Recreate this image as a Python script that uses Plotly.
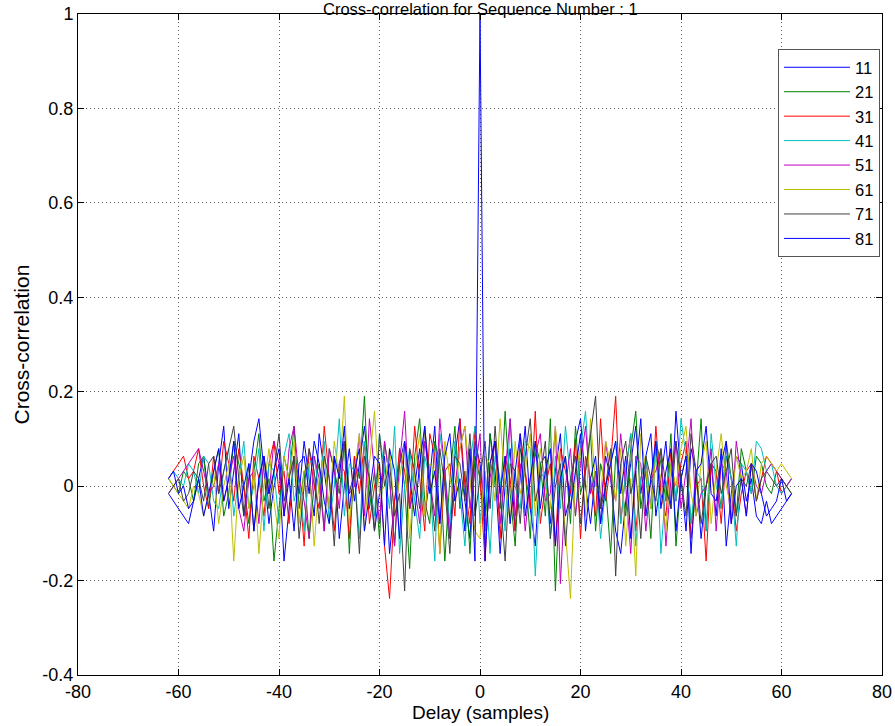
import plotly.graph_objects as go

# Delay axis (samples)
delays = list(range(-62, 63))
UNIT = 63.0  # values below are read in units of 1/63

labels = ["11", "21", "31", "41", "51", "61", "71", "81"]
colors = ["#0000ff", "#008000", "#ff0000", "#00bfbf", "#bf00bf", "#bfbf00", "#404040", "#0000ff"]

s11 = [-1, -2, -3, -4, -5, -2, 1, 4, -1, -6,
       3, 8, -3, 2, 7, -4, 1, 6, 9, 2,
       -5, 0, 3, -10, -3, 4, -1, 6, 1, -4,
       7, 2, -3, 4, -7, 0, 5, -2, 3, 8,
       1, -6, -1, 4, -9, -2, 3, 6, -3, 0,
       5, -4, 1, 8, -5, 2, -7, 4, 9, -2,
       -7, 6, 3, -4, 7, 2, -9, 0, 5, -6,
       1, 8, -3, -8, 3, 4, -5, 2, 7, -4,
       -1, 6, 9, 0, -5, 2, -3, 4, 1, -6,
       -9, -2, 3, 8, -1, 4, 7, -4, 1, 6,
       -3, 10, 1, -6, 5, 2, -7, 0, 3, -4,
       5, -8, -1, 4, 3, -2, 1, -4, -5, -2,
       -5, -4, -3, -2, -1]
s21 = [1, 0, -1, 2, 1, -2, 3, 4, -3, 2,
       5, -4, -1, 6, 3, 0, -5, 2, 7, -2,
       1, -10, -3, 4, 1, 8, -3, 2, -7, 0,
       3, -6, 5, 2, -1, 6, -9, 4, 1, 12,
       -3, 2, -7, 6, 1, -8, 5, 0, -11, 4,
       9, -2, -5, 6, 3, -10, 1, 8, -3, 2,
       -9, 4, 1, -6, 7, 0, -3, 10, -1, -8,
       5, 2, -7, 6, 3, -4, 9, -14, 1, 4,
       -5, 8, -1, 2, 7, -6, 3, 0, -9, 4,
       1, -4, 5, 10, -3, 2, -7, 6, 3, -2,
       7, -8, 1, 4, -5, 0, 9, -6, 3, 2,
       -3, 6, 1, -4, 5, 2, -1, 4, 3, 0,
       -1, 2, 1, 0, -1]
s31 = [1, 2, 3, 4, 1, 2, 5, 0, -3, 4,
       -1, 6, 3, -2, 5, 0, -7, 4, 1, -4,
       3, 6, -1, 2, -5, 4, 1, -8, 5, 0,
       -3, 8, 1, -6, 3, 2, -7, 4, -1, 6,
       -5, 0, 3, -8, -15, -2, 5, 2, -3, 8,
       1, -6, 7, 4, -9, 2, 3, -4, 9, 0,
       -5, 8, 1, -10, 3, 6, -7, 4, 1, -6,
       7, 2, -3, 10, -5, 0, 3, -8, 5, 2,
       -1, 6, -7, 4, 1, -4, 9, -2, 3, 12,
       -5, 2, 7, -6, 1, 4, -3, 8, -1, -4,
       5, -2, 3, 6, -7, 0, 1, -10, 3, 2,
       -5, 4, 1, -6, -1, 2, 3, -2, 1, 4,
       3, 2, -1, 0, 1]
s41 = [1, 2, 1, 0, 3, 2, -1, 4, 3, -2,
       -3, 2, 5, -4, 1, 6, -3, 0, 5, -6,
       3, 2, -5, 4, 7, -2, 1, -6, 3, 4,
       -1, 6, -5, 0, 9, -4, 3, 2, -7, 6,
       1, -4, 7, 2, -3, 8, -9, 0, 5, -2,
       -7, 4, 1, -10, 7, 2, -5, 6, -1, -8,
       3, 8, -5, 2, -9, 4, 1, -6, 9, 0,
       -3, 6, 5, -12, 1, 2, -7, 4, -3, 8,
       1, -4, 5, 10, -1, 2, -7, 0, 3, 6,
       -5, 2, 7, -8, 1, 4, -3, 6, -9, 0,
       3, -2, 9, 4, -5, 2, 1, -6, 7, 0,
       -3, 4, 1, -8, 3, 2, -1, 6, 5, 2,
       3, 0, -1, 0, 1]
s51 = [-1, 0, 1, 2, 3, 4, 5, 2, -1, 0,
       3, -2, 1, 4, -3, -6, 1, 2, -5, 4,
       -1, 6, 3, -4, 5, 8, 1, -2, -7, 4,
       1, -6, 5, 2, -3, 6, -1, 0, 7, -4,
       9, 2, -5, 6, 1, -8, 3, 10, -3, 0,
       -5, 6, 1, -4, 9, 2, -7, 0, 5, 8,
       -3, 2, 7, -8, 1, 6, -5, 2, 9, -4,
       3, -6, 1, 4, 7, -2, -1, 8, -13, 0,
       5, -4, 3, 8, -1, 2, -5, 6, 1, -2,
       7, 0, -9, 4, 3, -6, 1, 2, 5, -8,
       1, 6, -3, 2, 9, -4, -1, 0, 5, -6,
       3, 2, -5, 6, 1, -4, 3, 0, -1, 2,
       3, 2, 1, 0, 1]
s61 = [1, 0, -1, -2, -3, 0, -1, -4, -1, 2,
       -5, 0, 3, -10, 1, 4, -3, 2, -9, 0,
       5, -2, -7, 4, 1, 6, -5, 2, 3, -8,
       1, 4, -3, 6, 1, 12, -5, 2, 7, -6,
       3, 10, -1, 0, 5, -4, 1, 6, -7, 2,
       7, -4, 3, 2, -9, 6, 1, -2, 5, 8,
       1, -6, -7, 4, 3, -2, 9, 0, -5, 6,
       -1, 2, 7, -4, 5, 0, -3, 8, 1, -6,
       -15, 2, 5, -4, 9, 0, -1, 6, 3, -2,
       5, -8, 1, -12, 7, 2, -3, 4, 1, -6,
       3, 0, 5, 8, -1, -4, 3, 6, -5, 2,
       7, 0, -3, 4, 1, 2, 5, -2, 3, 4,
       3, 2, 3, 2, 1]
s71 = [-1, 0, 1, -2, -1, 2, 1, -2, 3, 4,
       -1, 2, 5, 8, 1, -4, 3, -6, 1, 4,
       -3, 2, 7, -2, 1, 4, -7, 0, 5, 2,
       -5, 4, 1, -8, 3, 6, -1, 2, -9, 4,
       1, -6, 7, 0, 3, -4, -1, -14, 5, 2,
       -3, 8, 1, -6, 5, 0, -9, 4, 3, -2,
       7, -4, 1, 6, -3, 8, -1, -10, 3, 2,
       -5, 4, 9, -2, 1, 6, -7, 0, 3, -8,
       1, 4, -5, 2, 7, 12, -3, 0, 5, -12,
       3, 6, -1, 2, -7, 4, 1, -2, 5, 0,
       -3, 6, 1, -4, 7, 2, -5, 0, 3, 4,
       -1, 2, 5, -4, 1, 0, 3, -2, 1, 2,
       1, 0, 1, 0, -1]
s81 = [1, 2, -1, 0, -3, -2, 1, -4, -1, 2,
       5, -2, 1, 6, -3, 0, 3, -6, 1, 4,
       -1, 2, 5, -4, 1, -6, 3, 4, -1, 6,
       3, -2, -5, 4, 1, 8, -3, 2, 5, -6,
       -1, 4, 3, -8, 5, 2, -7, 6, 1, -4,
       3, 8, -1, 2, -5, 4, 7, -2, 1, -6,
       5, -10, 63, -10, 3, 6, -1, 4, -5, 2,
       7, -4, 1, 6, -3, 2, 5, -8, 1, 4,
       -3, 2, 7, -6, 1, 4, -5, 0, 3, 6,
       -1, 4, -7, 2, 9, -4, 1, 6, -3, 2,
       5, -6, 1, 4, -9, 2, 3, 8, -1, -2,
       3, 6, -5, 0, 1, -4, 3, 2, -1, -4,
       -3, -2, 1, -2, -1]

series = [s11, s21, s31, s41, s51, s61, s71, s81]

xtick_vals = [-80, -60, -40, -20, 0, 20, 40, 60, 80]
xtick_text = ["-80", "-60", "-40", "-20", "0", "20", "40", "60", "80"]
ytick_vals = [-0.4, -0.2, 0, 0.2, 0.4, 0.6, 0.8, 1]
ytick_text = ["-0.4", "-0.2", "0", "0.2", "0.4", "0.6", "0.8", "1"]

FONT = "Liberation Sans, Arial, Helvetica, sans-serif"
FS = 18
PLOT_H = 661

fig = go.Figure()
for lab, col, s in zip(labels, colors, series):
    n = min(len(s), len(delays))
    fig.add_trace(go.Scatter(
        x=delays[:n], y=[v / UNIT for v in s[:n]], mode="lines", name=lab,
        line=dict(color=col, width=1),
    ))

axis_common = dict(
    showline=True, linecolor="#000000", linewidth=1, mirror="ticks",
    ticks="inside", ticklen=6, tickcolor="#000000",
    showgrid=True, gridcolor="#606060", griddash="1px,3px", gridwidth=1,
    zeroline=False, automargin=False,
    tickfont=dict(family=FONT, size=FS, color="#000000"),
)

fig.update_layout(
    width=895, height=726,
    margin=dict(l=78, r=13, t=14, b=51),
    paper_bgcolor="#ffffff", plot_bgcolor="#ffffff",
    font=dict(family=FONT, size=FS, color="#000000"),
    xaxis=dict(range=[-80, 80], tickvals=xtick_vals, ticktext=xtick_text, **axis_common),
    yaxis=dict(range=[-0.4, 1], tickvals=ytick_vals, ticktext=ytick_text, **axis_common),
    legend=dict(x=0.9975, xanchor="right", y=0.947, yanchor="top",
                bgcolor="#ffffff", bordercolor="#555555", borderwidth=1,
                font=dict(family=FONT, size=16.5, color="#000000"),
                itemwidth=66),
    showlegend=True,
    annotations=[
        dict(text="Cross-correlation for Sequence Number : 1", xref="paper", yref="paper",
             x=0.5, y=1 + (14 - 9.5) / PLOT_H, xanchor="center", yanchor="middle",
             showarrow=False, borderpad=0,
             font=dict(family=FONT, size=16.5, color="#000000")),
        dict(text="Delay (samples)", xref="paper", yref="paper", x=0.5, y=-37 / PLOT_H,
             xanchor="center", yanchor="middle", showarrow=False,
             font=dict(family=FONT, size=19, color="#000000")),
        dict(text="Cross-correlation", xref="paper", yref="paper", x=-57 / 804, y=0.5,
             xanchor="center", yanchor="middle", textangle=-90, showarrow=False,
             font=dict(family=FONT, size=21, color="#000000")),
    ],
)

fig.write_html("out.html")
